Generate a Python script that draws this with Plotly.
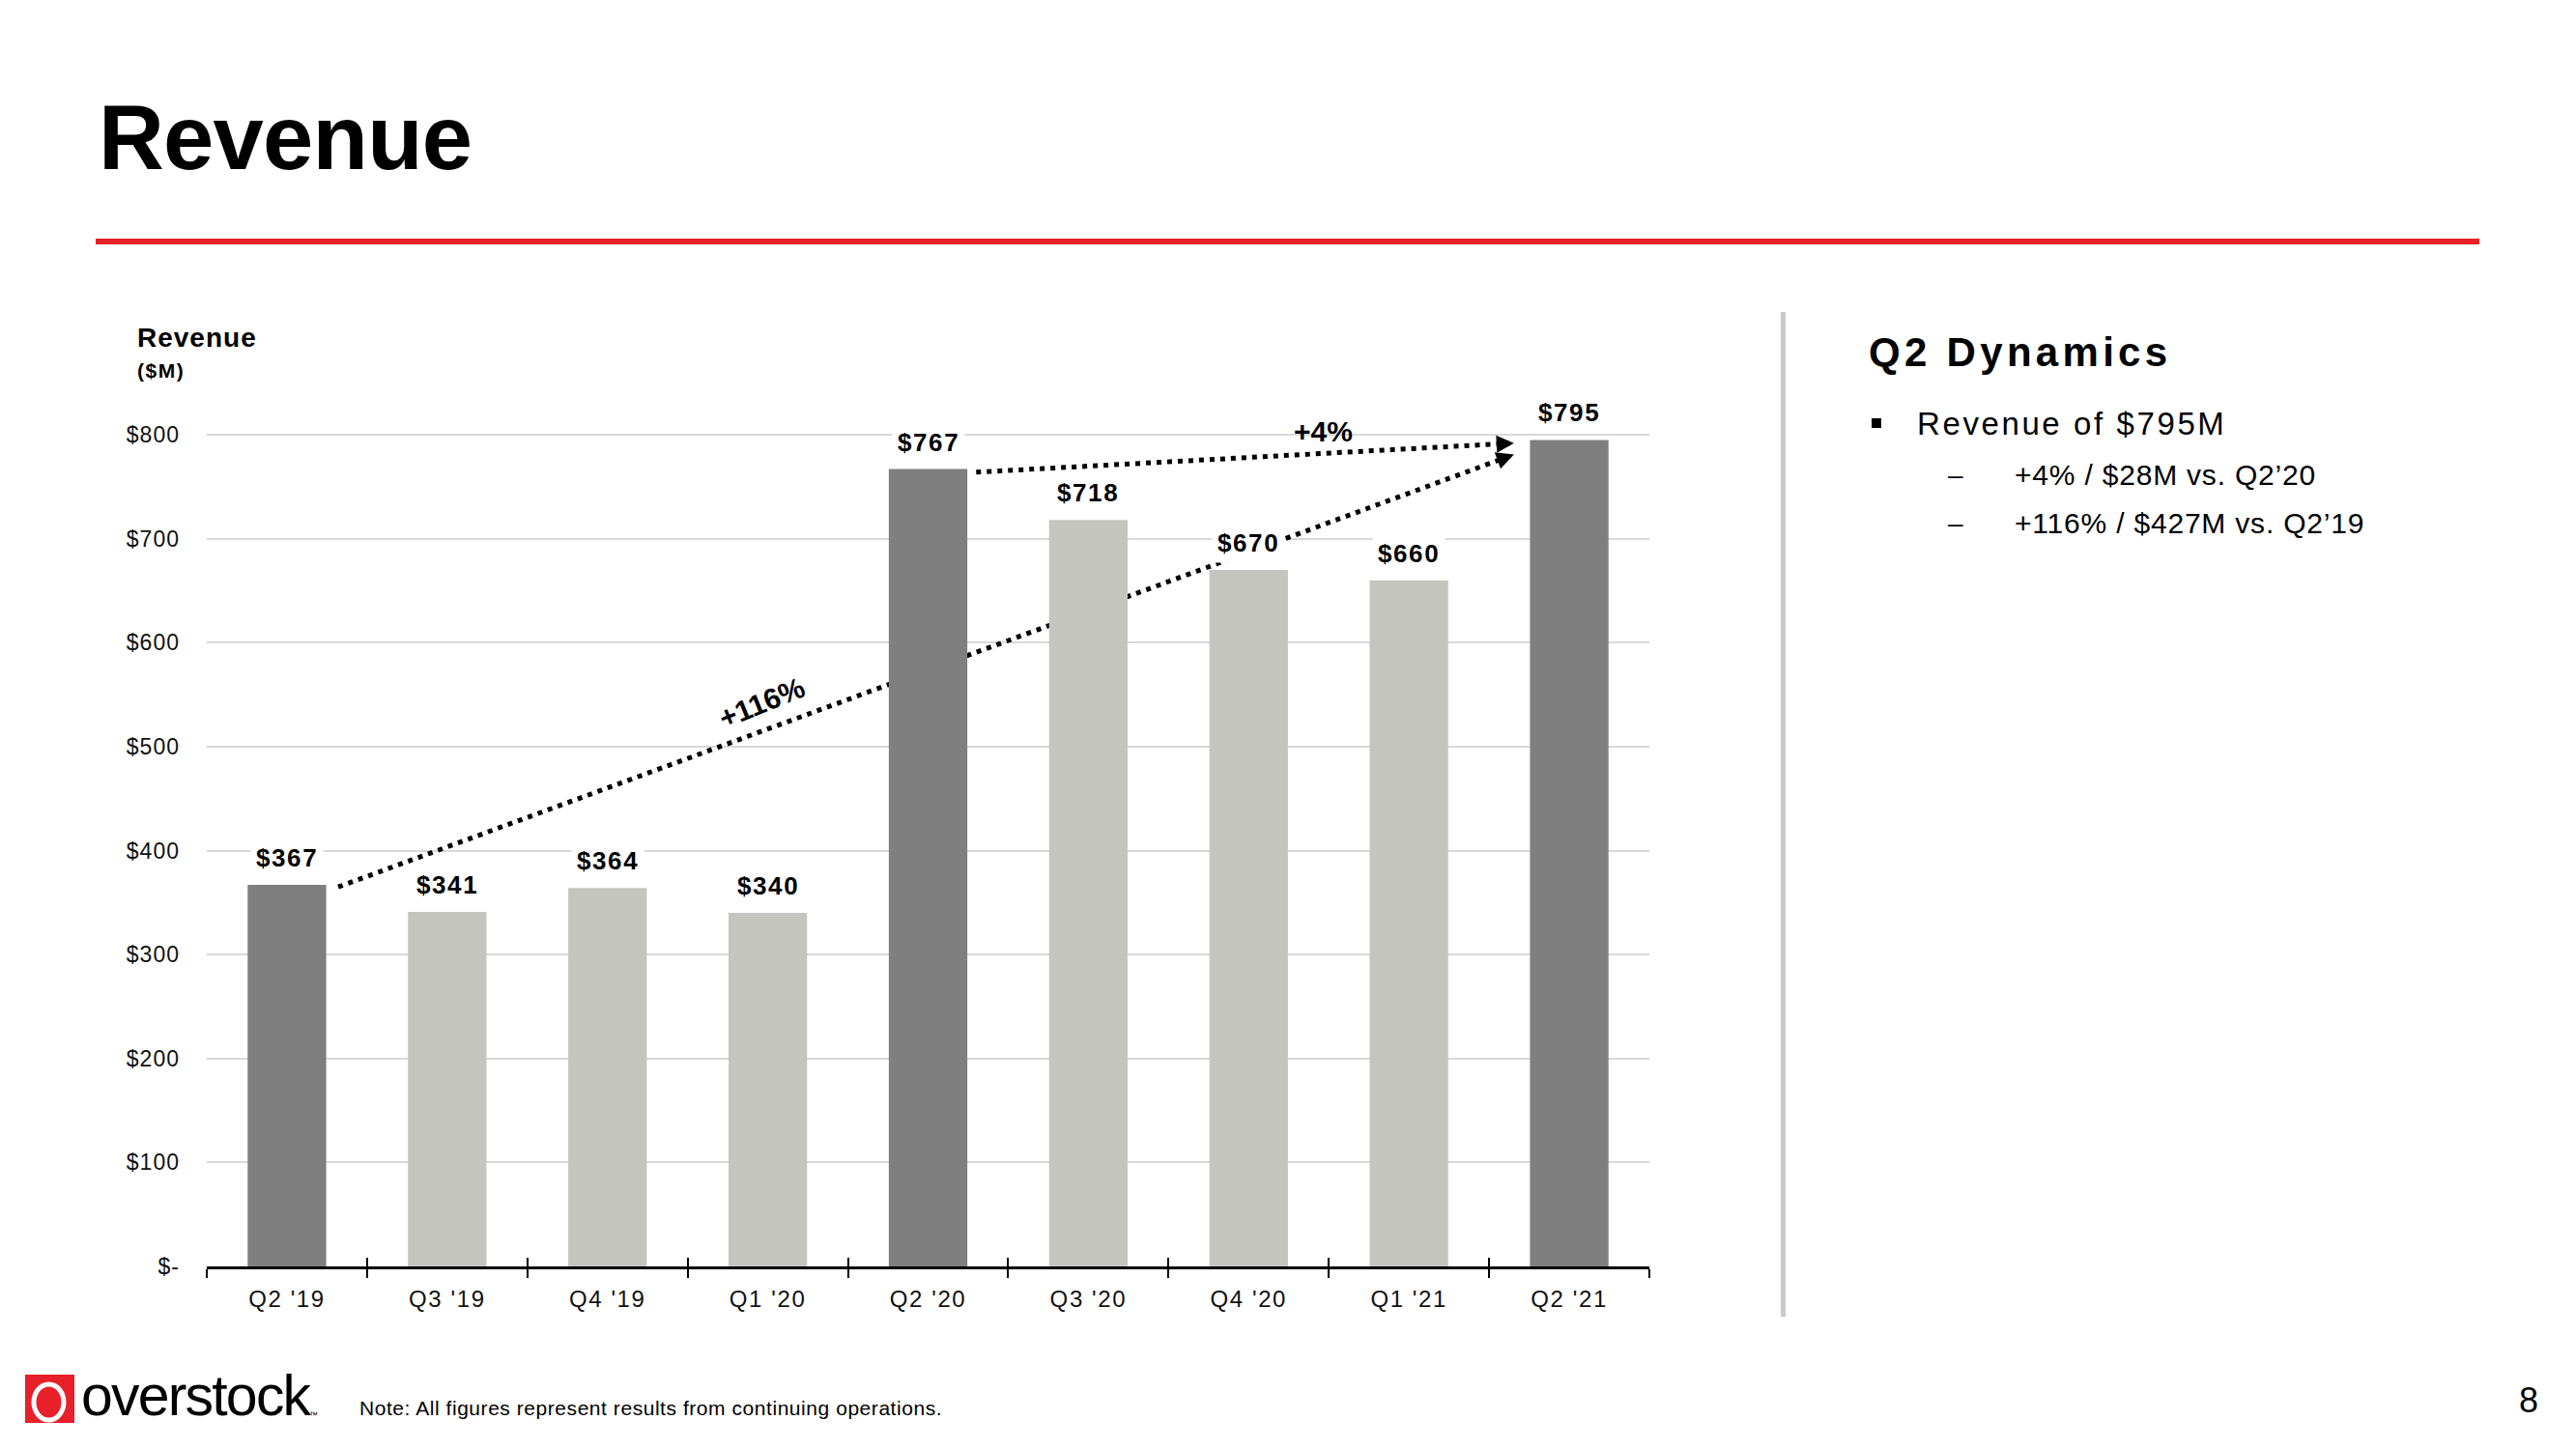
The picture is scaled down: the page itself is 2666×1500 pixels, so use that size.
import math
import plotly.graph_objects as go

# ---------------- data ----------------
quarters = ["Q2 '19", "Q3 '19", "Q4 '19", "Q1 '20", "Q2 '20", "Q3 '20", "Q4 '20", "Q1 '21", "Q2 '21"]
revenue = [367, 341, 364, 340, 767, 718, 670, 660, 795]
y_tick_values = [0, 100, 200, 300, 400, 500, 600, 700, 800]
y_tick_labels = ["$-", "$100", "$200", "$300", "$400", "$500", "$600", "$700", "$800"]
comparison_from = [0, 4]          # index of base quarter
comparison_to = [8, 8]            # index of compared quarter
comparison_labels = ["+116%", "+4%"]
page_title = "Revenue"
axis_title = "Revenue"
axis_unit = "($M)"
panel_title = "Q2 Dynamics"
panel_bullet = "Revenue of $795M"
panel_subbullets = ["+4% / $28M vs. Q2\u201920", "+116% / $427M vs. Q2\u201919"]
footnote = "Note: All figures represent results from continuing operations."
page_number = "8"

# ---------------- layout constants ----------------
FIG_W, FIG_H = 2666, 1500
L, R, T, B = 214, 1707, 364, 1311
PW, PH = R - L, B - T
YMAX = 880
N = len(quarters)
FONT = "Liberation Sans, Arial, sans-serif"
DARK, LIGHT = "#7f7f7f", "#c5c5c0"
RED = "#e8202a"

# arrow styling (offsets relative to the bars they connect)
arrow_start_dx = [0.32, 0.30]
arrow_start_dy = [-2, -3]
arrow_end_dx = [-0.345, -0.345]
arrow_end_dy = [-14, -3]
label_t = [0.36, 0.646]
label_shift = [30, 23]
label_angle = [-22, 0]


def xp(px):
    return (px - L) / PW


def yp(py):
    return (B - py) / PH


def d2px(x, v):
    return L + (x + 0.5) * PW / N, B - v * PH / YMAX


def px2d(px, py):
    return (px - L) * N / PW - 0.5, (B - py) * YMAX / PH


def ls(text, sp):
    return f"<span style='letter-spacing:{sp}px'>{text}</span>"


fig = go.Figure()

colors = [DARK if q.startswith("Q2") else LIGHT for q in quarters]
fig.add_trace(go.Bar(x=quarters, y=revenue, width=0.49,
                     marker=dict(color=colors, line=dict(width=0)),
                     hoverinfo="skip", showlegend=False))
# invisible trace on overlay axis (for inward tick marks)
fig.add_trace(go.Scatter(x=quarters, y=revenue, xaxis="x2", mode="markers",
                         marker=dict(opacity=0), hoverinfo="skip", showlegend=False))

annotations = []
shapes = []

# value labels
for q, v in zip(quarters, revenue):
    annotations.append(dict(x=q, y=v, xref="x", yref="y", text=ls(f"${v}", 1.6),
                            showarrow=False, yanchor="middle", yshift=28,
                            font=dict(family=FONT, size=26, color="black", weight="bold"),
                            bgcolor="white", borderpad=5))

# comparison arrows
for k in range(len(comparison_labels)):
    i, j = comparison_from[k], comparison_to[k]
    sx, sy = i + arrow_start_dx[k], revenue[i] + arrow_start_dy[k]
    tx, ty = j + arrow_end_dx[k], revenue[j] + arrow_end_dy[k]
    spx, spy = d2px(sx, sy)
    tpx, tpy = d2px(tx, ty)
    dx, dy = tpx - spx, tpy - spy
    ln = math.hypot(dx, dy)
    ux, uy = dx / ln, dy / ln
    epx, epy = tpx - ux * 10, tpy - uy * 10
    ex, ey = px2d(epx, epy)
    shapes.append(dict(type="line", xref="x", yref="y", x0=sx, y0=sy, x1=ex, y1=ey,
                       line=dict(color="black", width=5, dash="5px,6px"), layer="between"))
    annotations.append(dict(x=tx, y=ty, xref="x", yref="y", text="", showarrow=True,
                            ax=-ux * 18, ay=-uy * 18, arrowhead=2, arrowsize=0.72,
                            arrowwidth=5, arrowcolor="black", standoff=0, startstandoff=0))
    t = label_t[k]
    lx, ly = sx + t * (tx - sx), sy + t * (ty - sy)
    annotations.append(dict(x=lx, y=ly, xref="x", yref="y", text=comparison_labels[k],
                            showarrow=False, yshift=label_shift[k], textangle=label_angle[k],
                            xanchor="center", yanchor="middle",
                            font=dict(family=FONT, size=30, color="black", weight="bold")))

# page decorations (text)
def txt(text, x, y, size, bold=False, sp=0, anchor="left", color="black"):
    annotations.append(dict(x=xp(x), y=yp(y), xref="paper", yref="paper",
                            text=ls(text, sp) if sp else text, showarrow=False,
                            xanchor=anchor, yanchor="middle",
                            font=dict(family=FONT, size=size, color=color,
                                      weight="bold" if bold else "normal")))


txt(page_title, 100, 143, 94, bold=True, sp=-0.8)
txt(axis_title, 140, 349, 28, bold=True, sp=1)
txt(axis_unit, 140, 383, 21, bold=True, sp=1.5)
txt(panel_title, 1932, 364, 42, bold=True, sp=4.3)
txt(panel_bullet, 1982, 438, 33, sp=2.6)
for n, s in enumerate(panel_subbullets):
    yy = 491 + n * 50
    txt("\u2013", 2014, yy, 28)
    txt(s, 2083, yy, 30, sp=0.8)
txt(footnote, 370, 1457, 21, sp=0.55)
txt("overstock", 82, 1445, 59, sp=-1.8)
txt("\u2122", 318, 1465, 9)
txt(page_number, 2617, 1449, 36, anchor="center")

# page decorations (shapes)
shapes.append(dict(type="line", xref="paper", yref="paper", x0=xp(99), x1=xp(2566),
                   y0=yp(250), y1=yp(250), line=dict(color=RED, width=6)))
shapes.append(dict(type="line", xref="paper", yref="paper", x0=xp(1845.5), x1=xp(1845.5),
                   y0=yp(323), y1=yp(1363), line=dict(color="#c8c8c8", width=5)))
shapes.append(dict(type="rect", xref="paper", yref="paper", x0=xp(1937), x1=xp(1947),
                   y0=yp(433), y1=yp(443), fillcolor="black", line=dict(width=0)))
shapes.append(dict(type="rect", xref="paper", yref="paper", x0=xp(26), x1=xp(77),
                   y0=yp(1423), y1=yp(1473), fillcolor=RED, line=dict(width=0)))
shapes.append(dict(type="circle", xref="paper", yref="paper", x0=xp(35), x1=xp(66),
                   y0=yp(1433), y1=yp(1470), fillcolor="rgba(0,0,0,0)",
                   line=dict(color="white", width=5)))

fig.update_layout(
    width=FIG_W, height=FIG_H, autosize=False,
    margin=dict(l=L, r=FIG_W - R, t=T, b=FIG_H - B, pad=0),
    paper_bgcolor="white", plot_bgcolor="white",
    showlegend=False, bargap=0.5,
    font=dict(family=FONT, color="black"),
    xaxis=dict(type="category", range=[-0.5, N - 0.5], showgrid=False, zeroline=False,
               showline=True, linecolor="black", linewidth=3,
               ticks="outside", ticklen=9, tickwidth=2, tickcolor="black",
               tickson="boundaries", tickmode="array", tickvals=quarters,
               ticktext=[ls(q, 1.6) for q in quarters],
               tickfont=dict(family=FONT, size=24, color="#111111"),
               ticklabelstandoff=10, fixedrange=True),
    xaxis2=dict(type="category", overlaying="x", anchor="y", side="bottom",
                range=[-0.5, N - 0.5], showgrid=False, zeroline=False, showline=False,
                ticks="inside", ticklen=9, tickwidth=2, tickcolor="black",
                tickson="boundaries", showticklabels=False, fixedrange=True),
    yaxis=dict(range=[0, YMAX], tickmode="array", tickvals=y_tick_values,
               ticktext=[ls(t, 1.0) for t in y_tick_labels], showgrid=True,
               gridcolor="#d9d9d9", gridwidth=2,
               zeroline=False, showline=False, ticks="",
               tickfont=dict(family=FONT, size=23, color="#111111"),
               ticklabelstandoff=27, fixedrange=True),
    annotations=annotations,
    shapes=shapes,
)

fig.write_html("out.html", config={"displayModeBar": False},
               post_script="document.body.style.margin='0px';")
